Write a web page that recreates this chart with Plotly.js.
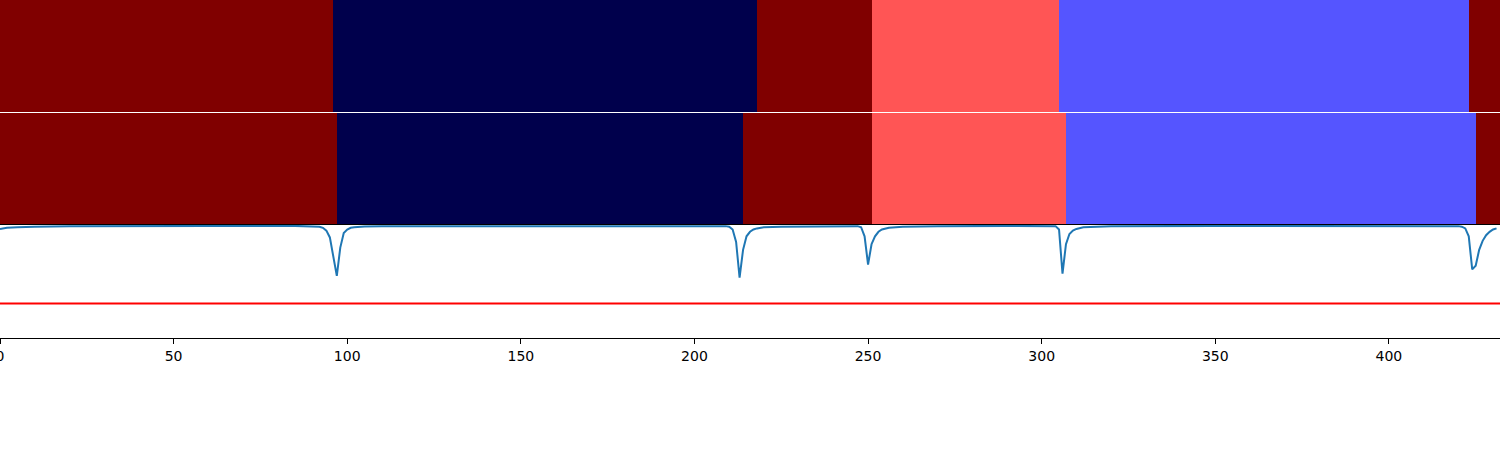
<!DOCTYPE html>
<html>
<head>
<meta charset="utf-8">
<script src="https://cdn.plot.ly/plotly-3.0.1.min.js"></script>
<style>html,body{margin:0;padding:0;background:#fff;}#chart{width:1500px;height:450px;}</style>
</head>
<body>
<div id="chart"></div>
<script>
// Segment edges (frame indices) and class labels for the two label rows
const edgesTop = [0, 96, 218, 251, 305, 423, 432];
const labelsTop = [3, 0, 3, 2, 1, 3];
const edgesMid = [0, 97, 214, 251, 307, 425, 432];
const labelsMid = [3, 0, 3, 2, 1, 3];

// Score curve
const scoreX = [0, 2, 5, 10, 20, 30, 60, 85, 90, 92, 93, 94, 95, 96, 97, 98, 99, 100, 101, 102, 105, 110,
  160, 205, 209, 210, 211, 212, 213, 214, 215, 216, 217, 218, 220, 225, 240,
  246, 247, 248, 249, 250, 251, 252, 253, 254, 256, 260, 270, 290,
  303, 304, 305, 306, 307, 308, 309, 310, 312, 316, 320, 350, 400,
  418, 420, 421, 422, 423, 424, 425, 426, 427, 428, 429, 430, 431];
const scoreY = [0.965, 0.975, 0.98, 0.985, 0.988, 0.99, 0.992, 0.992, 0.99, 0.985, 0.975, 0.95, 0.89, 0.72, 0.55, 0.80, 0.93, 0.96, 0.975, 0.98, 0.987, 0.99,
  0.992, 0.992, 0.99, 0.985, 0.96, 0.85, 0.535, 0.78, 0.90, 0.94, 0.96, 0.97, 0.98, 0.985, 0.99,
  0.992, 0.99, 0.98, 0.90, 0.65, 0.83, 0.90, 0.94, 0.96, 0.975, 0.985, 0.99, 0.992,
  0.992, 0.99, 0.96, 0.57, 0.83, 0.92, 0.95, 0.965, 0.98, 0.985, 0.99, 0.992, 0.992,
  0.992, 0.99, 0.985, 0.97, 0.90, 0.607, 0.64, 0.78, 0.86, 0.91, 0.94, 0.96, 0.97];

const thresholdX = [0, 432];
const thresholdY = [0.305, 0.305];

const xTicks = [0, 50, 100, 150, 200, 250, 300, 350, 400];

const cscale = [[0, '#00004c'], [1/3, '#5555ff'], [2/3, '#ff5555'], [1, '#800000']];

const traces = [
  {type: 'heatmap', x: edgesTop, y: [0], z: [labelsTop], colorscale: cscale, zmin: 0, zmax: 3,
   showscale: false, xaxis: 'x', yaxis: 'y', hoverinfo: 'skip'},
  {type: 'heatmap', x: edgesMid, y: [0], z: [labelsMid], colorscale: cscale, zmin: 0, zmax: 3,
   showscale: false, xaxis: 'x2', yaxis: 'y2', hoverinfo: 'skip'},
  {type: 'scatter', mode: 'lines', x: scoreX, y: scoreY, line: {color: '#1f77b4', width: 2},
   xaxis: 'x3', yaxis: 'y3', showlegend: false},
  {type: 'scatter', mode: 'lines', x: thresholdX, y: thresholdY, line: {color: '#ff0000', width: 2},
   xaxis: 'x3', yaxis: 'y3', showlegend: false}
];

const layout = {
  width: 1500, height: 450,
  margin: {l: 0, r: 0, t: 0, b: 112, pad: 0},
  paper_bgcolor: '#fff', plot_bgcolor: '#fff',
  font: {family: 'DejaVu Sans', size: 14, color: '#000'},
  showlegend: false,
  xaxis: {range: [0, 432], anchor: 'y', side: 'top', showticklabels: false, ticks: '', showgrid: false,
    zeroline: false, showline: true, linecolor: '#000', linewidth: 2, mirror: false},
  xaxis2: {range: [0, 432], anchor: 'y2', showticklabels: false, ticks: '', showgrid: false,
    zeroline: false, showline: false},
  xaxis3: {range: [0, 432], anchor: 'y3', tickmode: 'array', tickvals: xTicks, ticktext: xTicks.map(String),
    ticks: 'outside', ticklen: 5, tickwidth: 1, tickcolor: '#000', showgrid: false, zeroline: false,
    showline: true, linecolor: '#000', linewidth: 1.2, mirror: true, ticklabeloverflow: 'allow',
    tickfont: {family: 'DejaVu Sans', size: 14, color: '#000'}},
  yaxis: {domain: [0.6686, 1], range: [-0.5, 0.5], showticklabels: false, ticks: '', showgrid: false,
    zeroline: false, showline: true, linecolor: '#000', linewidth: 2, mirror: false},
  yaxis2: {domain: [0.3343, 0.6657], range: [-0.5, 0.5], showticklabels: false, ticks: '', showgrid: false,
    zeroline: false, showline: true, linecolor: '#000', linewidth: 2, mirror: false},
  yaxis3: {domain: [0, 0.3343], range: [0, 1], showticklabels: false, ticks: '', showgrid: false,
    zeroline: false, showline: true, linecolor: '#000', linewidth: 2, mirror: true}
};

Plotly.newPlot('chart', traces, layout, {staticPlot: true, displayModeBar: false});
</script>
</body>
</html>
